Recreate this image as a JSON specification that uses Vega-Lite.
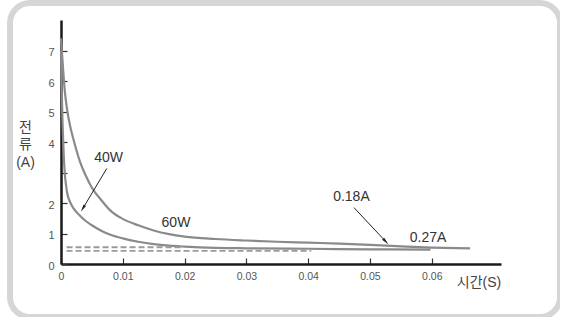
{
  "$schema": "https://vega.github.io/schema/vega-lite/v6.json",
  "width": 550,
  "height": 314,
  "autosize": {"type": "none"},
  "padding": {"left": 10, "top": 3, "right": 0, "bottom": 0},
  "background": "white",
  "config": {
    "view": {"stroke": "#d6d6d6", "strokeWidth": 6, "cornerRadius": 20, "fill": "white"},
    "font": "Liberation Sans, Noto Sans CJK KR",
    "axis": {"grid": false, "labelFlush": false, "labelOverlap": false}
  },
  "datasets": {
    "curves": [
      {"series": "60W", "t": 0, "v": 7.4},
      {"series": "60W", "t": 0.0003, "v": 6.5},
      {"series": "60W", "t": 0.0006, "v": 5.7},
      {"series": "60W", "t": 0.001, "v": 5.05},
      {"series": "60W", "t": 0.0015, "v": 4.5},
      {"series": "60W", "t": 0.002, "v": 4.1},
      {"series": "60W", "t": 0.003, "v": 3.4},
      {"series": "60W", "t": 0.004, "v": 2.9},
      {"series": "60W", "t": 0.005, "v": 2.5},
      {"series": "60W", "t": 0.0065, "v": 2.1},
      {"series": "60W", "t": 0.008, "v": 1.75},
      {"series": "60W", "t": 0.01, "v": 1.48},
      {"series": "60W", "t": 0.0125, "v": 1.27},
      {"series": "60W", "t": 0.015, "v": 1.1},
      {"series": "60W", "t": 0.0175, "v": 0.98},
      {"series": "60W", "t": 0.02, "v": 0.9},
      {"series": "60W", "t": 0.025, "v": 0.82},
      {"series": "60W", "t": 0.03, "v": 0.77},
      {"series": "60W", "t": 0.035, "v": 0.73},
      {"series": "60W", "t": 0.04, "v": 0.7},
      {"series": "60W", "t": 0.045, "v": 0.67},
      {"series": "60W", "t": 0.05, "v": 0.63},
      {"series": "60W", "t": 0.055, "v": 0.58},
      {"series": "60W", "t": 0.06, "v": 0.54},
      {"series": "60W", "t": 0.0662, "v": 0.51},
      {"series": "40W", "t": 0, "v": 7.0},
      {"series": "40W", "t": 0.0001, "v": 5.9},
      {"series": "40W", "t": 0.0002, "v": 5.0},
      {"series": "40W", "t": 0.0004, "v": 3.8},
      {"series": "40W", "t": 0.0006, "v": 3.0},
      {"series": "40W", "t": 0.0008, "v": 2.6},
      {"series": "40W", "t": 0.001, "v": 2.33},
      {"series": "40W", "t": 0.0015, "v": 2.02},
      {"series": "40W", "t": 0.002, "v": 1.83},
      {"series": "40W", "t": 0.003, "v": 1.6},
      {"series": "40W", "t": 0.004, "v": 1.41},
      {"series": "40W", "t": 0.005, "v": 1.27},
      {"series": "40W", "t": 0.0065, "v": 1.09},
      {"series": "40W", "t": 0.008, "v": 0.96},
      {"series": "40W", "t": 0.01, "v": 0.84},
      {"series": "40W", "t": 0.0125, "v": 0.73},
      {"series": "40W", "t": 0.015, "v": 0.65},
      {"series": "40W", "t": 0.0175, "v": 0.6},
      {"series": "40W", "t": 0.02, "v": 0.57},
      {"series": "40W", "t": 0.025, "v": 0.53},
      {"series": "40W", "t": 0.03, "v": 0.515},
      {"series": "40W", "t": 0.04, "v": 0.5},
      {"series": "40W", "t": 0.05, "v": 0.48},
      {"series": "40W", "t": 0.0598, "v": 0.47}
    ],
    "dashes": [
      {"t": 0.0009, "t2": 0.0194, "v": 0.55},
      {"t": 0.0009, "t2": 0.0405, "v": 0.43}
    ],
    "labels": [
      {"label": "40W", "t": 0.0077, "v": 3.46},
      {"label": "60W", "t": 0.0186, "v": 1.35},
      {"label": "0.18A", "t": 0.047, "v": 2.2},
      {"label": "0.27A", "t": 0.0594, "v": 0.84}
    ],
    "arrows": [
      {"name": "40W", "t": 0.0074, "v": 3.13, "t2": 0.00353, "v2": 1.82},
      {"name": "0.18A", "t": 0.0474, "v": 1.85, "t2": 0.05256, "v2": 0.736}
    ]
  },
  "encoding": {
    "x": {
      "field": "t",
      "type": "quantitative",
      "scale": {"domain": [0, 0.0712], "range": [51, 491], "nice": false, "zero": false},
      "axis": {
        "values": [0, 0.01, 0.02, 0.03, 0.04, 0.05, 0.06],
        "offset": -53,
        "domainColor": "#1a1a1a",
        "domainWidth": 2.5,
        "tickColor": "#333333",
        "tickSize": -6,
        "tickWidth": 1.2,
        "labelPadding": 13,
        "labelFontSize": 10.5,
        "labelColor": "#555555",
        "labelExpr": "datum.value == 0 ? '0' : format(datum.value, '.2f')",
        "title": "시간(S)",
        "titleX": 468.5,
        "titleY": 18,
        "titleAlign": "center",
        "titleBaseline": "middle",
        "titleFontSize": 14,
        "titleFontWeight": "normal",
        "titleColor": "#444444"
      }
    },
    "y": {
      "field": "v",
      "type": "quantitative",
      "scale": {"domain": [0, 8], "range": [261, 17], "nice": false, "zero": false},
      "axis": {
        "values": [0, 1, 2, 3, 4, 5, 6, 7],
        "offset": -51,
        "domainColor": "#1a1a1a",
        "domainWidth": 2.5,
        "tickColor": "#333333",
        "tickSize": -6,
        "tickWidth": 1.2,
        "labelPadding": 13,
        "labelFontSize": 11,
        "labelColor": "#555555",
        "labelOffset": 2,
        "labelExpr": "datum.value == 3 ? '' : datum.label",
        "title": ["전", "류", "(A)"],
        "titleAngle": 0,
        "titleAlign": "center",
        "titleBaseline": "top",
        "titleX": -36,
        "titleY": 117,
        "titleLineHeight": 17.5,
        "titleFontSize": 14,
        "titleFontWeight": "normal",
        "titleColor": "#444444"
      }
    }
  },
  "layer": [
    {
      "data": {"name": "curves"},
      "mark": {"type": "line", "color": "#8a8a8a", "strokeWidth": 2.2, "interpolate": "monotone"},
      "encoding": {"detail": {"field": "series"}}
    },
    {
      "data": {"name": "dashes"},
      "mark": {"type": "rule", "color": "#9a9a9a", "strokeWidth": 1.8, "strokeDash": [6, 3]},
      "encoding": {"x2": {"field": "t2"}}
    },
    {
      "data": {"name": "arrows"},
      "mark": {"type": "rule", "color": "#222222", "strokeWidth": 1},
      "encoding": {"x2": {"field": "t2"}, "y2": {"field": "v2"}}
    },
    {
      "data": {"name": "arrows"},
      "transform": [{"filter": "datum.name == '40W'"}],
      "mark": {"type": "point", "shape": "M0,-1L0.38,1L-0.38,1Z", "filled": true, "color": "#222222", "opacity": 1, "size": 60, "angle": 211},
      "encoding": {"x": {"field": "t2", "type": "quantitative"}, "y": {"field": "v2", "type": "quantitative"}}
    },
    {
      "data": {"name": "arrows"},
      "transform": [{"filter": "datum.name == '0.18A'"}],
      "mark": {"type": "point", "shape": "M0,-1L0.38,1L-0.38,1Z", "filled": true, "color": "#222222", "opacity": 1, "size": 60, "angle": 136.8},
      "encoding": {"x": {"field": "t2", "type": "quantitative"}, "y": {"field": "v2", "type": "quantitative"}}
    },
    {
      "data": {"name": "labels"},
      "mark": {"type": "text", "fontSize": 14, "color": "#333333", "align": "center", "baseline": "middle"},
      "encoding": {"text": {"field": "label"}}
    }
  ]
}
